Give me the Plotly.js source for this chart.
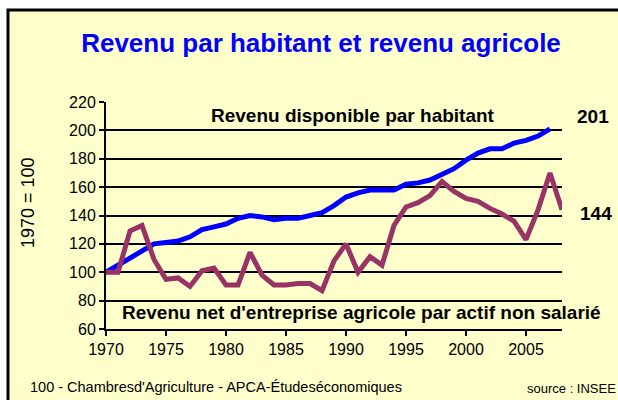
<!DOCTYPE html>
<html>
<head>
<meta charset="utf-8">
<script src="https://cdn.plot.ly/plotly-3.0.1.min.js"></script>
<style>
  html, body { margin: 0; padding: 0; background: #ffffff; }
  #chart { width: 618px; height: 400px; }
</style>
</head>
<body>
<div id="chart"></div>
<script>
  // -- Data -------------------------------------------------------------------
  var years = [
    1970, 1971, 1972, 1973, 1974, 1975, 1976, 1977, 1978, 1979,
    1980, 1981, 1982, 1983, 1984, 1985, 1986, 1987, 1988, 1989,
    1990, 1991, 1992, 1993, 1994, 1995, 1996, 1997, 1998, 1999,
    2000, 2001, 2002, 2003, 2004, 2005, 2006, 2007, 2008
  ];

  // Revenu disponible par habitant (1970 = 100), 1970-2007
  var revenuHabitant = [
    100, 105, 110, 115, 120, 121, 122, 125, 130, 132,
    134, 138, 140, 139, 137, 138, 138, 140, 142, 147,
    153, 156, 158, 158, 158, 162, 163, 165, 169, 173,
    179, 184, 187, 187, 191, 193, 196, 201
  ];

  // Revenu net d'entreprise agricole par actif non salarié (1970 = 100), 1970-2008
  var revenuAgricole = [
    100, 100, 129, 133, 109, 95, 96, 90, 101, 103,
    91, 91, 114, 98, 91, 91, 92, 92, 87, 108,
    120, 100, 111, 105, 133, 146, 149, 154, 164, 157,
    152, 150, 145, 141, 136, 123, 144, 170, 144
  ];

  var xTicks = [1970, 1975, 1980, 1985, 1990, 1995, 2000, 2005];

  var TITLE      = 'Revenu par habitant et revenu agricole';
  var LABEL_HAB  = 'Revenu disponible par habitant';
  var LABEL_AGRI = "Revenu net d'entreprise agricole par actif non salarié";
  var Y_TITLE    = '1970 = 100';
  var FOOTER_L   = "100 - Chambresd'Agriculture - APCA-Étudeséconomiques";
  var FOOTER_R   = 'source : INSEE';

  // -- Theme ------------------------------------------------------------------
  var BG     = '#FFFFCC';
  var BLUE   = '#0000FF';
  var PLUM   = '#993366';
  var INK    = '#000000';
  var FONT   = 'Liberation Sans, Arial, sans-serif';

  var traces = [
    {
      type: 'scatter', mode: 'lines',
      x: years.slice(0, revenuHabitant.length), y: revenuHabitant,
      line: { color: BLUE, width: 5 },
      hoverinfo: 'skip'
    },
    {
      type: 'scatter', mode: 'lines',
      x: years, y: revenuAgricole,
      line: { color: PLUM, width: 5 },
      hoverinfo: 'skip'
    }
  ];

  // Text placed in plot-paper coordinates, given here in pixels of the page.
  function note(text, px, py, size, opts) {
    var a = {
      text: text, xref: 'paper', yref: 'paper',
      x: (px - 106) / 456, y: (329 - py) / 227,
      xanchor: 'center', yanchor: 'middle', showarrow: false,
      font: { family: FONT, size: size, color: INK }
    };
    for (var k in (opts || {})) a[k] = opts[k];
    return a;
  }

  var layout = {
    width: 618, height: 400,
    margin: { l: 106, r: 56, t: 102, b: 71 },
    paper_bgcolor: '#ffffff',
    plot_bgcolor: 'rgba(0,0,0,0)',
    showlegend: false,
    font: { family: FONT, color: INK },
    title: {
      text: '<b>' + TITLE + '</b>',
      font: { family: FONT, size: 26, color: BLUE },
      x: 321 / 618, xanchor: 'center',
      y: 1 - 43 / 400, yanchor: 'middle', yref: 'container'
    },
    xaxis: {
      range: [1970, 2008],
      tickvals: xTicks,
      ticks: 'outside', ticklen: 5, tickwidth: 2, tickcolor: INK,
      showline: true, linewidth: 2, linecolor: INK,
      showgrid: false, zeroline: false,
      tickfont: { family: FONT, size: 16, color: INK },
      fixedrange: true
    },
    yaxis: {
      range: [60, 220], dtick: 20,
      ticks: 'outside', ticklen: 5, tickwidth: 2, tickcolor: INK,
      showline: true, linewidth: 2, linecolor: INK,
      showgrid: true, gridcolor: INK, gridwidth: 2, zeroline: false,
      tickfont: { family: FONT, size: 16, color: INK },
      fixedrange: true
    },
    shapes: [{
      type: 'rect', xref: 'paper', yref: 'paper', layer: 'below',
      x0: (8 - 106) / 456, x1: (650 - 106) / 456,
      y0: (329 - 430) / 227, y1: (329 - 10) / 227,
      fillcolor: BG, line: { color: INK, width: 3 }
    }],
    annotations: [
      note('<b>' + LABEL_HAB + '</b>', 353, 115, 19),
      note('<b>' + LABEL_AGRI + '</b>', 361, 312, 19),
      note('<b>' + revenuHabitant[revenuHabitant.length - 1] + '</b>', 593, 116, 19),
      note('<b>' + revenuAgricole[revenuAgricole.length - 1] + '</b>', 596, 213, 19),
      note(Y_TITLE, 28, 203, 18, { textangle: -90 }),
      note(FOOTER_L, 28, 387, 14.5, { xanchor: 'left' }),
      note(FOOTER_R, 618, 388, 13, { xanchor: 'right' })
    ]
  };

  Plotly.newPlot('chart', traces, layout, { displayModeBar: false, staticPlot: true });
</script>
</body>
</html>
